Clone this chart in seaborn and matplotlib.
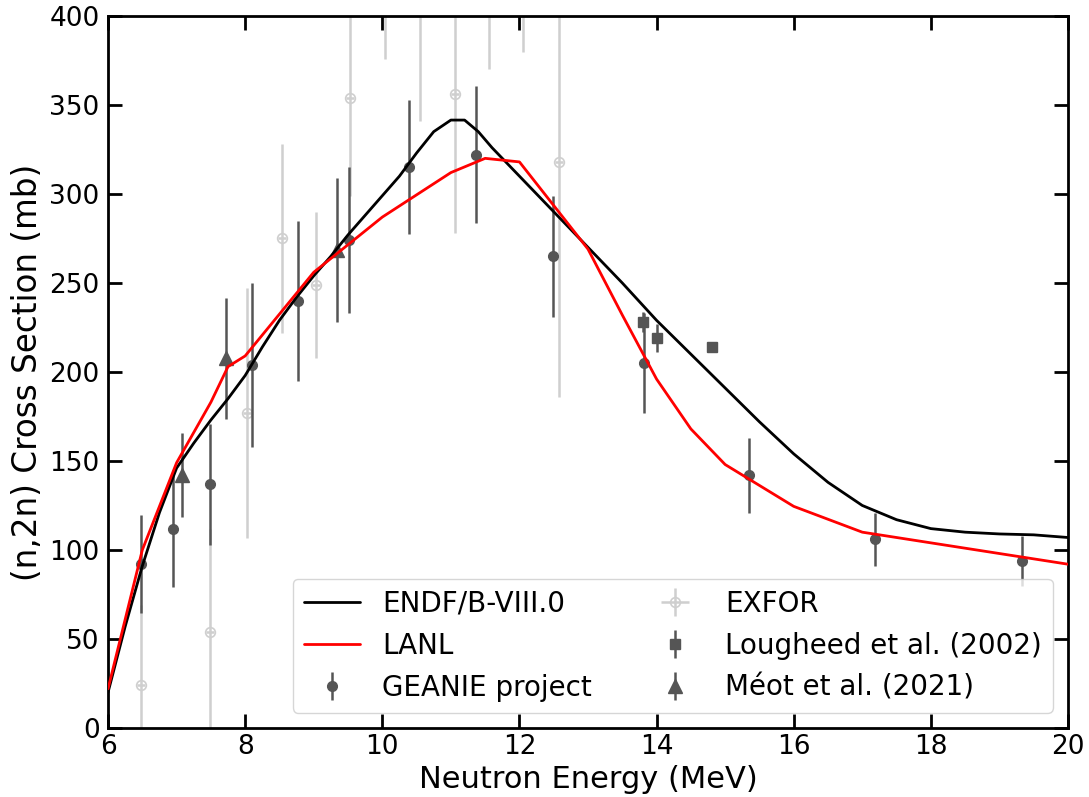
import numpy as np
import pandas as pd
import matplotlib
matplotlib.use("Agg")
import matplotlib.pyplot as plt
import seaborn as sns

# ---------------- data ----------------
endf_e = [6.0, 6.25, 6.5, 6.75, 7.0, 7.25, 7.5, 7.75, 8.0, 8.25, 8.5, 8.75, 9.0, 9.25, 9.5,
          9.75, 10.0, 10.25, 10.5, 10.75, 11.0, 11.2, 11.4, 11.6, 11.8, 12.0, 12.5, 13.0,
          13.5, 14.0, 14.5, 15.0, 15.5, 16.0, 16.5, 17.0, 17.5, 18.0, 18.5, 19.0, 19.5, 20.0]
endf_xs = [20, 57, 91, 121, 146, 160, 173, 185, 198, 214, 229, 242, 254, 265, 277,
           288, 299, 310, 323, 335, 341.5, 341.5, 335, 326, 318, 310, 290, 270,
           250, 229, 210, 191, 172, 154, 138, 125, 117, 112, 110, 109, 108.5, 107]

lanl_e = [6.0, 6.5, 7.0, 7.5, 7.75, 8.0, 9.0, 10.0, 11.0, 11.5, 12.0, 13.0, 13.5, 14.0,
          14.5, 15.0, 16.0, 17.0, 20.0]
lanl_xs = [22, 100, 149, 183, 203, 209, 256, 287, 312, 320, 318, 269, 232, 196,
           168, 148, 124.5, 110, 92]

exfor_e = [6.48, 7.49, 8.03, 8.54, 9.03, 9.53, 10.04, 10.55, 11.06, 11.56, 12.05, 12.58]
exfor_xs = [24, 54, 177, 275, 249, 354, 430, 410, 356, 420, 430, 318]
exfor_err = [45, 58, 70, 53, 41, 55, 54, 69, 78, 50, 50, 132]

geanie_e = [6.48, 6.95, 7.48, 8.10, 8.77, 9.51, 10.39, 11.37, 12.49, 13.82, 15.35, 17.19, 19.33]
geanie_xs = [92, 112, 137, 204, 240, 274, 315, 322, 265, 205, 142, 106, 94]
geanie_err = [27.5, 33, 34, 46, 45, 41, 37.5, 38.5, 34, 28, 21, 15, 14]

lough_e = [13.80, 14.00, 14.81]
lough_xs = [228, 219, 214]
lough_err = [5.5, 7.7, 2.5]

meot_e = [7.08, 7.72, 9.34]
meot_xs = [142, 207.6, 268.5]
meot_err = [23.5, 34, 40.5]

labels = ["ENDF/B-VIII.0", "LANL", "GEANIE project", "EXFOR",
          "Lougheed et al. (2002)", "Méot et al. (2021)"]

# ---------------- style ----------------
sns.set_style("ticks")
plt.rcParams["font.family"] = ["DejaVu Sans"]
plt.rcParams["font.size"] = 18
for k in ["text.color", "axes.labelcolor", "xtick.color", "ytick.color", "axes.edgecolor"]:
    plt.rcParams[k] = "black"

fig = plt.figure(figsize=(10.89, 7.97), dpi=100)
ax = fig.add_axes([0.0992, 0.0866, 0.8815, 0.8934])

dgray = "#555555"
lgray = "#cfcfcf"

h_exfor = ax.errorbar(exfor_e, exfor_xs, yerr=exfor_err, xerr=0.06, fmt="o", mfc="none",
                      mec=lgray, ecolor=lgray, color=lgray, ms=7, elinewidth=1.8,
                      mew=1.2, zorder=1)

endf_df = pd.DataFrame({"E": endf_e, "xs": endf_xs})
lanl_df = pd.DataFrame({"E": lanl_e, "xs": lanl_xs})
sns.lineplot(data=endf_df, x="E", y="xs", color="black", lw=2, sort=False,
             estimator=None, ax=ax, zorder=3, label=labels[0])
sns.lineplot(data=lanl_df, x="E", y="xs", color="red", lw=2, sort=False,
             estimator=None, ax=ax, zorder=3, label=labels[1])

h_geanie = ax.errorbar(geanie_e, geanie_xs, yerr=geanie_err, fmt="o", color=dgray,
                       ecolor=dgray, ms=7, elinewidth=1.8, zorder=2)
h_lough = ax.errorbar(lough_e, lough_xs, yerr=lough_err, fmt="s", color=dgray,
                      ecolor=dgray, ms=6.5, elinewidth=1.8, zorder=2)
h_meot = ax.errorbar(meot_e, meot_xs, yerr=meot_err, fmt="^", color=dgray,
                     ecolor=dgray, ms=10, elinewidth=1.8, zorder=2)

ax.set_xlim(6, 20)
ax.set_ylim(0, 400)
ax.set_xticks(np.arange(6, 21, 2))
ax.set_yticks(np.arange(0, 401, 50))
ax.set_xlabel("Neutron Energy (MeV)", fontsize=22, labelpad=4)
ax.set_ylabel("(n,2n) Cross Section (mb)", fontsize=23.5, labelpad=4)
ax.tick_params(direction="in", length=10, width=2, labelsize=19,
               top=True, right=True)
ax.tick_params(axis="x", pad=4)
ax.tick_params(axis="y", pad=6)
for s in ax.spines.values():
    s.set_linewidth(2)
    s.set_visible(True)

handles, _ = ax.get_legend_handles_labels()
line_handles = handles[:2]
leg = ax.legend(line_handles + [h_geanie, h_exfor, h_lough, h_meot], labels,
                ncol=2, loc="lower right", fontsize=20, handlelength=2.0,
                borderaxespad=0.55)

fig.savefig("out.png", dpi=100)
